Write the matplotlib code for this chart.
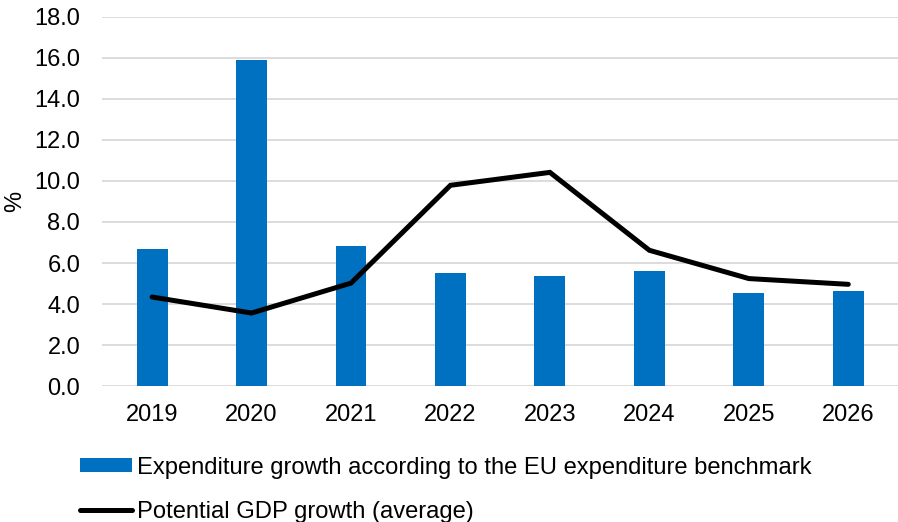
import matplotlib as mpl
mpl.use('Agg')
import matplotlib.pyplot as plt
import numpy as np

plt.rcParams['font.family'] = ['Liberation Sans', 'DejaVu Sans']

years = ['2019', '2020', '2021', '2022', '2023', '2024', '2025', '2026']
expenditure = [6.70, 15.92, 6.85, 5.51, 5.37, 5.61, 4.56, 4.63]
potential_gdp = [4.34, 3.56, 5.02, 9.79, 10.42, 6.62, 5.24, 4.96]
yticks = np.arange(0, 18.1, 2.0)

fig = plt.figure(figsize=(8.98, 5.22), dpi=100)
ax = fig.add_axes([0.114, 0.2605, 0.886, 0.707])

x = np.arange(len(years))
bars = ax.bar(x, expenditure, width=0.31, color='#0070C0', zorder=2)
line, = ax.plot(x, potential_gdp, color='black', lw=3.6, solid_capstyle='round',
                solid_joinstyle='miter', zorder=3)

ax.set_xlim(-0.5, len(years) - 0.5)
ax.set_ylim(0, 18)
ax.set_yticks(yticks)
ax.set_yticklabels(['{:.1f}'.format(v) for v in yticks])
ax.set_xticks(x)
ax.set_xticklabels(years)
ax.tick_params(axis='both', length=0, labelsize=17, colors='black')
ax.tick_params(axis='x', pad=13)
ax.tick_params(axis='y', pad=16)
ax.grid(axis='y', color='#D9D9D9', lw=1.3, zorder=0)
ax.set_axisbelow(True)
for s in ax.spines.values():
    s.set_visible(False)
ax.set_ylabel('%', fontsize=17, labelpad=6)

ax.legend([bars, line],
          ['Expenditure growth according to the EU expenditure benchmark',
           'Potential GDP growth (average)'],
          loc='upper left', bbox_to_anchor=(-0.0405, -0.1655), frameon=False,
          fontsize=17.1, handlelength=2.2, handleheight=0.55, handletextpad=0.2,
          labelspacing=0.93, borderaxespad=0)

fig.savefig('out.png', dpi=100)
